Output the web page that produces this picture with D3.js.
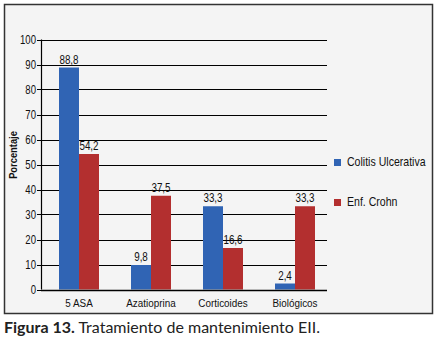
<!DOCTYPE html>
<html><head><meta charset="utf-8">
<script src="https://cdn.jsdelivr.net/npm/d3@7"></script>
<style>body{margin:0;background:#fff}svg{display:block}</style>
</head><body>
<svg id="c" width="440" height="344"></svg>
<script>
const categories = ["5 ASA", "Azatioprina", "Corticoides", "Biológicos"];
const seriesNames = ["Colitis Ulcerativa", "Enf. Crohn"];
const colitis = [88.8, 9.8, 33.3, 2.4];
const crohn = [54.2, 37.5, 16.6, 33.3];
const yTicks = [0, 10, 20, 30, 40, 50, 60, 70, 80, 90, 100];
const colors = ["#3064b4", "#b32f2f"];
const series = [colitis, crohn];

const svg = d3.select("#c");
const font = "'Liberation Sans', Arial, sans-serif";

function ntext(sel, x, y, anchor, size, sx) {
  return sel.attr("transform", (d, i) => `translate(${x(d, i)},${y(d, i)}) scale(${sx},1)`)
    .attr("text-anchor", anchor).attr("font-family", font).attr("font-size", size).attr("fill", "#111");
}

svg.append("rect").attr("x", 4.5).attr("y", 4.5).attr("width", 428).attr("height", 309)
  .attr("fill", "#f4f4f4").attr("stroke", "#333").attr("stroke-width", 1.5);

const y = d3.scaleLinear().domain([0, 100]).range([289.5, 39.5]);
const x = d3.scaleBand().domain(categories).range([43, 331]);
const xi = d3.scaleBand().domain([0, 1]).range([0, 40]);
const plotL = 41, plotR = 327;

const g = svg.append("g");
g.selectAll("line.grid").data(yTicks).join("line")
  .attr("x1", plotL - 4).attr("x2", plotR)
  .attr("y1", d => Math.round(y(d)) + 0.5).attr("y2", d => Math.round(y(d)) + 0.5)
  .attr("stroke", "#000").attr("stroke-width", 1.2);
g.append("line").attr("x1", plotL + 0.5).attr("x2", plotL + 0.5)
  .attr("y1", y(100)).attr("y2", y(0)).attr("stroke", "#000").attr("stroke-width", 1.2);

ntext(g.selectAll("text.yt").data(yTicks).join("text"), () => 36, d => y(d) + 4, "end", 12, 0.8)
  .text(d => d);

series.forEach((s, si) => {
  const cx = (d, i) => x(categories[i]) + x.bandwidth() / 2 - 20 + xi(si);
  g.selectAll("rect.s" + si).data(s).join("rect")
    .attr("x", cx)
    .attr("width", xi.bandwidth())
    .attr("y", d => y(d)).attr("height", d => y(0) - y(d))
    .attr("fill", colors[si]);
  ntext(g.selectAll("text.v" + si).data(s).join("text"),
    (d, i) => cx(d, i) + xi.bandwidth() / 2, d => y(d) - 4, "middle", 12, 0.82)
    .text(d => d.toFixed(1).replace(".", ","));
});

g.append("line").attr("x1", plotL).attr("x2", plotR)
  .attr("y1", Math.round(y(0)) + 0.5).attr("y2", Math.round(y(0)) + 0.5)
  .attr("stroke", "#000").attr("stroke-width", 1.5);

ntext(g.selectAll("text.xt").data(categories).join("text"),
  d => x(d) + x.bandwidth() / 2, () => 307, "middle", 11.5, 0.86).text(d => d);

svg.append("text").attr("transform", "translate(17,155) rotate(-90) scale(0.85,1)")
  .attr("text-anchor", "middle").attr("font-family", font).attr("font-size", 11)
  .attr("font-weight", "bold").attr("fill", "#111").text("Porcentaje");

const ly = [159, 199];
seriesNames.forEach((n, i) => {
  svg.append("rect").attr("x", 334).attr("y", ly[i]).attr("width", 7).attr("height", 7).attr("fill", colors[i]);
  svg.append("text").attr("transform", `translate(347,${ly[i] + 7}) scale(0.88,1)`).attr("font-family", font)
    .attr("font-size", 12).attr("fill", "#111").text(n);
});

const cap = svg.append("text").attr("x", 4).attr("y", 333)
  .attr("font-family", "Lato, 'Open Sans', sans-serif").attr("font-size", 16).attr("fill", "#222");
cap.append("tspan").attr("font-weight", "bold").text("Figura 13.");
cap.append("tspan").text(" Tratamiento de mantenimiento EII.");
</script>
</body></html>
